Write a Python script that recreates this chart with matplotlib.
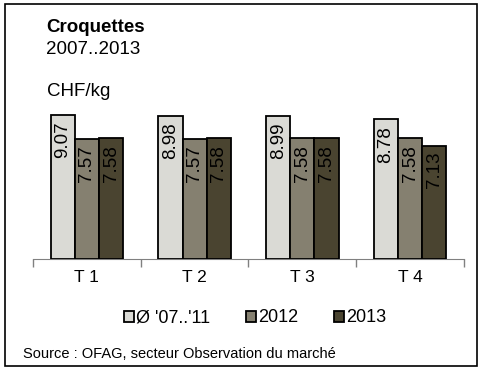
import numpy as np
import matplotlib.pyplot as plt
from matplotlib.patches import Rectangle

plt.rcParams['font.family'] = ['Liberation Sans', 'DejaVu Sans']

# Prix moyens des croquettes par trimestre (CHF/kg)
trimestres = ['T 1', 'T 2', 'T 3', 'T 4']
series = ["Ø '07..'11", '2012', '2013']
moy_07_11 = [9.07, 8.98, 8.99, 8.78]
val_2012 = [7.57, 7.57, 7.58, 7.58]
val_2013 = [7.58, 7.58, 7.58, 7.13]
couleurs = ['#DADAD5', '#858070', '#4A4430']

fig = plt.figure(figsize=(4.81, 3.71), dpi=100)
ax = fig.add_axes([33 / 481, 1 - 259 / 371, 431 / 481, 159 / 371])

x = np.arange(len(trimestres))
largeur = 0.225
for i, (vals, coul) in enumerate(zip([moy_07_11, val_2012, val_2013], couleurs)):
    pos = x + (i - 1) * largeur
    ax.bar(pos, vals, largeur, color=coul, edgecolor='black', linewidth=1.3,
           label=series[i], zorder=3)
    for px, v in zip(pos, vals):
        ax.text(px, v - 0.4, f"{v:.2f}", rotation=90, ha='center', va='top',
                fontsize=13.5, color='black', zorder=4)

ax.set_xlim(-0.5, len(trimestres) - 0.5)
ax.set_ylim(0, 10)
for s in ['top', 'right', 'left']:
    ax.spines[s].set_visible(False)
ax.spines['bottom'].set_color('#808080')
ax.set_yticks([])
ax.set_xticks(x)
ax.set_xticklabels(trimestres, fontsize=12.5)
ax.tick_params(axis='x', which='major', length=0, pad=8)
ax.set_xticks(np.arange(-0.5, len(trimestres)), minor=True)
ax.tick_params(axis='x', which='minor', length=6, color='#808080', width=1)

# Titre et unité
fig.text(46 / 481, 1 - 27 / 371, 'Croquettes', fontsize=13.5, fontweight='bold',
         va='center', ha='left')
fig.text(46 / 481, 1 - 50 / 371, '2007..2013', fontsize=13.5, va='center', ha='left')
fig.text(47 / 481, 1 - 91 / 371, 'CHF/kg', fontsize=13.5, va='center', ha='left')

# Légende
handles = [Rectangle((0, 0), 1, 1, facecolor=c, edgecolor='black', linewidth=1.3)
           for c in couleurs]
fig.legend(handles, series, loc='center', bbox_to_anchor=(255 / 481, 1 - 318 / 371),
           ncol=3, frameon=False, fontsize=13, handlelength=0.55, handleheight=0.55,
           handletextpad=0.1, columnspacing=2.0, borderpad=0, borderaxespad=0)

fig.text(23 / 481, 1 - 354 / 371, 'Source : OFAG, secteur Observation du marché',
         fontsize=10.5, va='center', ha='left')

# Cadre autour de la figure
fig.patches.append(Rectangle((5 / 481, 5 / 371), 472 / 481, 362 / 371,
                             transform=fig.transFigure, fill=False,
                             edgecolor='black', linewidth=1.2))

fig.savefig('out.png', dpi=100)
